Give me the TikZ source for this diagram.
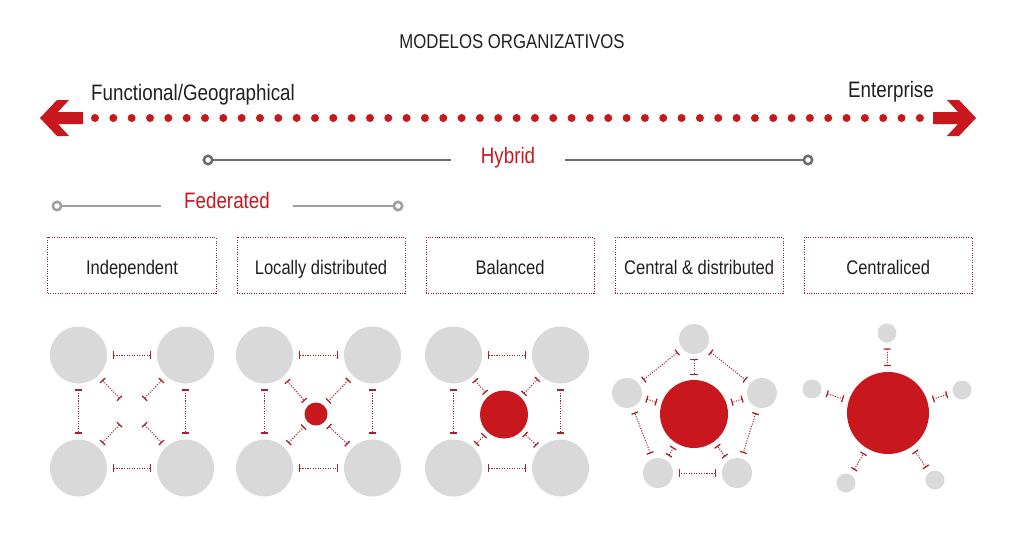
\documentclass[tikz,border=0pt]{standalone}
\usepackage{fontspec}
\setmainfont{Liberation Sans}[FakeStretch=0.84]
\usetikzlibrary{positioning,arrows.meta}
\definecolor{ink}{RGB}{35,31,32}
\definecolor{modred}{RGB}{200,24,30}
\definecolor{linkred}{RGB}{170,32,40}
\definecolor{boxred}{RGB}{140,30,40}
\definecolor{disc}{RGB}{217,217,217}
\definecolor{hybgray}{RGB}{110,110,110}
\definecolor{fedgray}{RGB}{160,160,160}

\begin{document}
\begin{tikzpicture}[
    x=0.025cm, y=-0.025cm,
    heading/.style={font=\fontsize{14.2pt}{16pt}\selectfont,text=ink},
    toplabel/.style={font=\fontsize{15.9pt}{18pt}\selectfont,text=ink,inner sep=0pt,anchor=base},
    model/.style={rectangle,draw=boxred,densely dotted,line width=0.7pt,minimum width=4.2cm,minimum height=1.4cm,
      text height=16pt,text depth=2.5pt,font=\fontsize{14pt}{16pt}\selectfont,text=ink},
    unit/.style={circle,fill=disc,inner sep=0pt,minimum size=1.425cm},
    sat/.style={circle,fill=disc,inner sep=0pt,minimum size=0.75cm},
    mini/.style={circle,fill=disc,inner sep=0pt,minimum size=0.475cm},
    hub/.style={circle,fill=modred,inner sep=0pt},
    link/.style={draw=linkred,line width=0.7pt,dash pattern=on 0.8pt off 1pt,
      {Bar[width=5pt,line width=0.9pt]}-{Bar[width=5pt,line width=0.9pt]},
      shorten <=4pt,shorten >=4pt},
    endpt/.style={circle,draw,fill=white,line width=1.8pt,inner sep=0pt,minimum size=6pt}
  ]
  \useasboundingbox (0,0) rectangle (1024,552);

  \node[heading] (title) at (512,42) {MODELOS ORGANIZATIVOS};

  % Scale
  \node[toplabel] (functional) at (193,100) {Functional/Geographical};
  \node[toplabel] (enterprise) at (891,97) {Enterprise};
  \foreach \i in {0,...,45}
    \fill[modred] (95+18.33*\i,118) circle (2.85pt);
  \fill[modred] (40,118) -- (57,100) -- (69,100) -- (58,112) -- (83,112)
    -- (83,124) -- (58,124) -- (69,136) -- (57,136) -- cycle;
  \fill[modred] (976,118) -- (959,100) -- (947,100) -- (958,112) -- (933,112)
    -- (933,124) -- (958,124) -- (947,136) -- (959,136) -- cycle;

  \node[endpt,draw=hybgray] (hybL) at (208,160) {};
  \node[endpt,draw=hybgray] (hybR) at (808,160) {};
  \node[toplabel,text=modred,inner xsep=21pt] (hybrid) at (508,163) {Hybrid};
  \draw[hybgray,line width=2.1pt] (hybL) -- (hybL -| hybrid.west);
  \draw[hybgray,line width=2.1pt] (hybrid.east |- hybR) -- (hybR);

  \node[endpt,draw=fedgray] (fedL) at (57,206) {};
  \node[endpt,draw=fedgray] (fedR) at (398,206) {};
  \node[toplabel,text=modred,inner xsep=16pt] (federated) at (227,208) {Federated};
  \draw[fedgray,line width=1.9pt] (fedL) -- (fedL -| federated.west);
  \draw[fedgray,line width=1.9pt] (federated.east |- fedR) -- (fedR);

  % Models
  \node[model] (indep) at (132,265.5) {Independent};
  \node[model,right=0.5cm of indep] (local) {Locally distributed};
  \node[model,right=0.5cm of local] (balanced) {Balanced};
  \node[model,right=0.5cm of balanced] (central) {Central \& distributed};
  \node[model,right=0.5cm of central] (centraliced) {Centraliced};

  \node[unit] (a1) at (78.5,355) {};
  \node[unit] (a2) at (185.5,355) {};
  \node[unit] (a3) at (78.5,468) {};
  \node[unit] (a4) at (185.5,468) {};
  \coordinate (ac) at (132,411.5);

  \node[unit] (b1) at (264.5,355) {};
  \node[unit] (b2) at (372.5,355) {};
  \node[unit] (b3) at (264.5,468) {};
  \node[unit] (b4) at (372.5,468) {};
  \node[hub,minimum size=0.575cm] (bc) at (316,414) {};

  \node[unit] (c1) at (453.5,355) {};
  \node[unit] (c2) at (560.5,355) {};
  \node[unit] (c3) at (453.5,468) {};
  \node[unit] (c4) at (560.5,468) {};
  \node[hub,minimum size=1.2cm] (cc) at (504,414.5) {};

  \node[sat] (d1) at (694,339) {};
  \node[sat] (d2) at (762,393) {};
  \node[sat] (d3) at (737,473) {};
  \node[sat] (d4) at (658,473) {};
  \node[sat] (d5) at (627,393) {};
  \node[hub,minimum size=1.7cm] (dc) at (694,414) {};

  \node[mini] (e1) at (887,333) {};
  \node[mini] (e2) at (962,390) {};
  \node[mini] (e3) at (935,480) {};
  \node[mini] (e4) at (846,483) {};
  \node[mini] (e5) at (812,389) {};
  \node[hub,minimum size=2.05cm] (ec) at (888,413) {};

  % Links
  \draw[link] (a1) -- (a2);
  \draw[link] (a3) -- (a4);
  \draw[link] (a1) -- (a3);
  \draw[link] (a2) -- (a4);
  \draw[link,shorten >=12.5pt] (a1) -- (ac);
  \draw[link,shorten >=12.5pt] (a2) -- (ac);
  \draw[link,shorten >=12.5pt] (a3) -- (ac);
  \draw[link,shorten >=12.5pt] (a4) -- (ac);

  \draw[link] (b1) -- (b2);
  \draw[link] (b3) -- (b4);
  \draw[link] (b1) -- (b3);
  \draw[link] (b2) -- (b4);
  \draw[link] (b1) -- (bc);
  \draw[link] (b2) -- (bc);
  \draw[link] (b3) -- (bc);
  \draw[link] (b4) -- (bc);

  \draw[link] (c1) -- (c2);
  \draw[link] (c3) -- (c4);
  \draw[link] (c1) -- (c3);
  \draw[link] (c2) -- (c4);
  \draw[link,shorten <=3pt,shorten >=3pt] (c1) -- (cc);
  \draw[link,shorten <=3pt,shorten >=3pt] (c2) -- (cc);
  \draw[link,shorten <=3pt,shorten >=3pt] (c3) -- (cc);
  \draw[link,shorten <=3pt,shorten >=3pt] (c4) -- (cc);

  \draw[link] (d1) -- (d2);
  \draw[link] (d2) -- (d3);
  \draw[link] (d3) -- (d4);
  \draw[link] (d4) -- (d5);
  \draw[link] (d5) -- (d1);
  \draw[link,shorten <=3.5pt,shorten >=3.5pt] (d1) -- (dc);
  \draw[link,shorten <=3.5pt,shorten >=3.5pt] (d2) -- (dc);
  \draw[link,shorten <=3.5pt,shorten >=3.5pt] (d3) -- (dc);
  \draw[link,shorten <=3.5pt,shorten >=3.5pt] (d4) -- (dc);
  \draw[link,shorten <=3.5pt,shorten >=3.5pt] (d5) -- (dc);

  \draw[link] (e1) -- (ec);
  \draw[link] (e2) -- (ec);
  \draw[link] (e3) -- (ec);
  \draw[link] (e4) -- (ec);
  \draw[link] (e5) -- (ec);
\end{tikzpicture}
\end{document}
